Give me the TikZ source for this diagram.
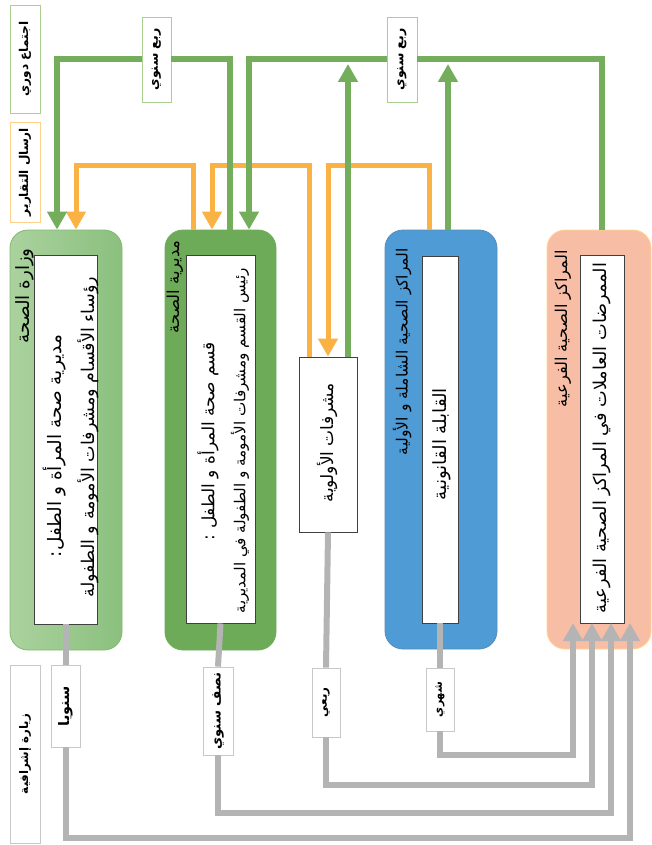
\documentclass[tikz,border=0pt]{standalone}
\usepackage{fontspec}
\usepackage{graphicx}
\newfontfamily\arabicfont[Script=Arabic]{DejaVu Sans}
\TeXXeTstate=1
\usetikzlibrary{arrows.meta}
\definecolor{gcol}{HTML}{74AE5C}
\definecolor{ocol}{HTML}{FBB244}
\definecolor{graycol}{HTML}{B4B4B4}
\definecolor{bOneL}{HTML}{AAD29E}
\definecolor{bOneR}{HTML}{8BC07E}
\definecolor{bOneD}{HTML}{82B86F}
\definecolor{bTwo}{HTML}{6DAB58}
\definecolor{bFour}{HTML}{4F9BD5}
\definecolor{bFourD}{HTML}{5A8AB5}
\definecolor{bFive}{HTML}{F8BEA5}
\definecolor{bFiveD}{HTML}{FFD68C}
\definecolor{labG}{HTML}{A9D08E}
\definecolor{labO}{HTML}{FFD08A}
\definecolor{labY}{HTML}{C8C8C8}
% Arabic text fitted to a given length
\newcommand{\ar}[2]{\resizebox{#1pt}{!}{\arabicfont #2}}
\newcommand{\arb}[2]{\rotatebox{90}{\resizebox{#1pt}{!}{\arabicfont\bfseries #2}}}
\begin{document}
\begin{tikzpicture}[x=1pt,y=-1pt,
  bigbox/.style={rounded corners=18pt, line width=0.8pt, inner sep=0pt},
  innerbox/.style={draw=black!75, fill=white, line width=0.9pt, inner sep=0pt},
  lab/.style={fill=white, line width=0.8pt, inner sep=0pt},
  rtext/.style={rotate=90, inner sep=0pt, font=\fontsize{14}{16}\selectfont},
  ttext/.style={rotate=90, inner sep=0pt, anchor=east, font=\fontsize{14}{16}\selectfont},
  ltext/.style={font=\fontsize{13}{15}\selectfont},
  gline/.style={line width=6pt, draw=gcol},
  oline/.style={line width=5pt, draw=ocol},
  grline/.style={line width=6pt, draw=graycol},
  gtip/.style={-{Triangle[width=19pt,length=18pt]}}
]
\useasboundingbox (0,0) rectangle (652,845);

% main boxes
\node[bigbox, draw=bOneD, left color=bOneL, right color=bOneR, minimum width=112pt, minimum height=420pt] (b1) at (66,440) {};
\node[bigbox, draw=bTwo, fill=bTwo, minimum width=111pt, minimum height=420pt] (b2) at (220.5,440) {};
\node[innerbox, minimum width=58pt, minimum height=175pt] (b3) at (328,444.5) {};
\node[bigbox, draw=bFourD, fill=bFour, minimum width=112pt, minimum height=419pt] (b4) at (441,439.5) {};
\node[bigbox, draw=bFiveD, fill=bFive, minimum width=104pt, minimum height=419pt] (b5) at (599,439.5) {};

% inner white boxes
\node[innerbox, minimum width=63pt, minimum height=369pt] (i1) at (65.5,439.5) {};
\node[innerbox, minimum width=69pt, minimum height=368pt] (i2) at (220.5,439) {};
\node[innerbox, minimum width=36pt, minimum height=367pt] (i4) at (440,439.5) {};
\node[innerbox, minimum width=44pt, minimum height=368pt] (i5) at (602,439) {};

% titles
\node[ttext] (h1) at (25,248) {\ar{95}{\beginR وزارة الصحة\endR}};
\node[ttext] (h2) at (175,240) {\ar{93}{\beginR مديرية الصحة\endR}};
\node[ttext] (h4) at (402,248) {\ar{207}{\beginR المراكز الصحية الشاملة و الأولية\endR}};
\node[ttext] (h5) at (563,250) {\ar{157}{\beginR المراكز الصحية الفرعية\endR}};

% inner texts
\node[rtext] (x1a) at (55,446) {\ar{222}{\beginR مديرية صحة المرأة و الطفل:\endR}};
\node[rtext] (x1b) at (88,437) {\ar{320}{\beginR رؤساء الأقسام ومشرفات الأمومة و الطفولة\endR}};
\node[rtext] (x2a) at (208,441) {\ar{198}{\beginR قسم صحة المرأة و الطفل :\endR}};
\node[rtext] (x2b) at (240,440.5) {\ar{345}{\beginR رئيس القسم ومشرفات الأمومة و الطفولة في المديرية\endR}};
\node[rtext] (x3) at (327,442.5) {\ar{119}{\beginR مشرفات الأولوية\endR}};
\node[rtext] (x4) at (442,444) {\ar{112}{\beginR القابلة القانونية\endR}};
\node[rtext] (x5) at (602,438) {\ar{350}{\beginR الممرضات العاملات في المراكز الصحية الفرعية\endR}};

% legend labels
\node[lab, draw=labG, minimum width=30pt, minimum height=108pt, ltext] (lm) at (25,59) {\arb{75}{\beginR اجتماع دوري\endR}};
\node[lab, draw=labO, minimum width=30pt, minimum height=100pt, ltext] (lr) at (25,172) {\arb{88}{\beginR ارسال التقارير\endR}};
\node[lab, draw=labY, minimum width=30pt, minimum height=178pt, ltext] (lv) at (25,754) {\arb{80}{\beginR زيارة إشرافية\endR}};

% top connector labels
\node[lab, draw=labG, minimum width=29pt, minimum height=85pt, ltext] (q1) at (156.5,59.5) {\arb{62}{\beginR ربع سنوي\endR}};
\node[lab, draw=labG, minimum width=30pt, minimum height=85pt, ltext] (q2) at (402,59.5) {\arb{62}{\beginR ربع سنوي\endR}};

% bottom connector labels
\node[lab, draw=labY, minimum width=29pt, minimum height=82pt, ltext] (v1) at (65.5,706) {\arb{40}{\beginR سنويا\endR}};
\node[lab, draw=labY, minimum width=30pt, minimum height=88pt, ltext] (v2) at (218,711) {\arb{77}{\beginR نصف سنوي\endR}};
\node[lab, draw=labY, minimum width=28pt, minimum height=69pt, ltext] (v3) at (326,702.5) {\arb{30}{\beginR ربعي\endR}};
\node[lab, draw=labY, minimum width=28pt, minimum height=63pt, ltext] (v4) at (440,699.5) {\arb{35}{\beginR شهري\endR}};

% helper coordinates
\coordinate (gm1) at (300,838);
\coordinate (gm2) at (400,813);
\coordinate (gm3) at (450,785);
\coordinate (gm4) at (500,755);
\coordinate (t1) at (573,623);
\coordinate (t2) at (592,623);
\coordinate (t3) at (611,623);
\coordinate (t4) at (630,623);
\coordinate (om1) at (130,166);
\coordinate (om2) at (260,166);
\coordinate (om3) at (380,166);
\coordinate (u1) at (348,64);
\coordinate (u2) at (448,64);

% gray connectors
\draw[grline] (i1.south) -- (v1.north);
\draw[grline, gtip] (v1.south) |- (gm1) -| (t4);
\draw[grline] (i2.south) -- (v2.north);
\draw[grline, gtip] (v2.south) |- (gm2) -| (t3);
\draw[grline] (b3.south) -- (v3.north);
\draw[grline, gtip] (v3.south) |- (gm3) -| (t2);
\draw[grline] (i4.south) -- (v4.north);
\draw[grline, gtip] (v4.south) |- (gm4) -| (t1);

% orange connectors
\draw[oline, gtip] ([xshift=-27.5pt]b2.north) |- (om1) -| ([xshift=10pt]b1.north);
\draw[oline, gtip] ([xshift=-19pt]b3.north) |- (om2) -| ([xshift=-8.5pt]b2.north);
\draw[oline, gtip] ([xshift=-12pt]b4.north) |- (om3) -| (b3.north);

% green connectors
\draw[gline] ([xshift=9.5pt]b2.north) |- (q1.east);
\draw[gline, gtip] (q1.west) -| ([xshift=-9pt]b1.north);
\draw[gline] ([xshift=3pt]b5.north) |- (q2.east);
\draw[gline, gtip] (q2.west) -| ([xshift=28.5pt]b2.north);
\draw[gline, gtip] ([xshift=20pt]b3.north) -- (u1);
\draw[gline, gtip] ([xshift=7pt]b4.north) -- (u2);
\end{tikzpicture}
\end{document}
